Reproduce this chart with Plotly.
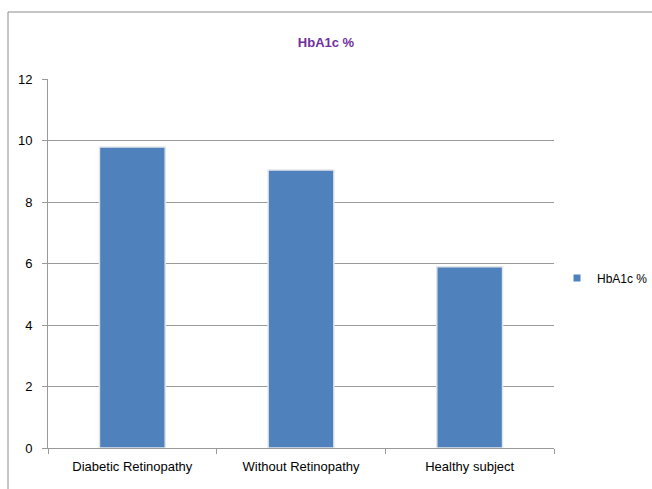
import plotly.graph_objects as go

categories = ["Diabetic Retinopathy", "Without Retinopathy", "Healthy subject"]
hba1c = [9.8, 9.05, 5.9]
series_name = "HbA1c %"
y_ticks = [0, 2, 4, 6, 8, 10, 12]

FONT = "Liberation Sans Narrow, Arial Narrow, sans-serif"
L, R, T, B = 48, 98, 79, 41
W, H = 652, 489
pw, ph = W - L - R, H - T - B

fig = go.Figure()
fig.add_trace(go.Bar(
    x=categories, y=hba1c, name=series_name,
    marker=dict(color="#4f81bd", line=dict(color="#e3e6ea", width=1.5)),
    width=0.39, showlegend=False,
))
# legend entry (small square marker, like the reference)
fig.add_trace(go.Scatter(
    x=[None], y=[None], mode="markers", name=series_name,
    marker=dict(symbol="square", size=7, color="#4f81bd"), showlegend=True,
))

fig.update_layout(
    width=W, height=H,
    margin=dict(l=L, r=R, t=T, b=B, autoexpand=False),
    paper_bgcolor="white", plot_bgcolor="white",
    font=dict(family=FONT, size=12, color="#000000"),
    title=dict(text="<b>HbA1c %</b>", x=326 / W, xref="container",
               xanchor="center", y=1 - 42 / H, yanchor="middle",
               font=dict(family=FONT, size=13, color="#7030a0")),
    showlegend=True,
    legend=dict(x=557 / W, y=1 - 278 / H, xref="container", yref="container",
                xanchor="left", yanchor="middle",
                font=dict(family=FONT, size=12, color="#000000"),
                bgcolor="rgba(0,0,0,0)", itemwidth=30),
    xaxis=dict(type="category", tickson="boundaries", ticks="outside", ticklen=5,
               tickcolor="#9a9a9a", showline=True, linecolor="#9a9a9a", linewidth=1,
               showgrid=False, ticklabelstandoff=6,
               tickfont=dict(family=FONT, size=13, color="#000000")),
    yaxis=dict(range=[0, 12.01], tickvals=y_ticks, ticks="outside", ticklen=5,
               tickcolor="#9a9a9a", showline=True, linecolor="#9a9a9a", linewidth=1,
               showgrid=True, gridcolor="#9a9a9a", gridwidth=1, zeroline=False,
               ticklabelstandoff=7,
               tickfont=dict(family=FONT, size=13, color="#000000")),
    bargap=0.6,
)

# outer chart border
fig.add_shape(type="rect", xref="paper", yref="paper",
              x0=(8 - L) / pw, x1=(W + 60 - L) / pw,
              y0=-(B + 40) / ph, y1=1 + (T - 12) / ph,
              line=dict(color="#8c8c8c", width=1), layer="below")

fig.write_html("out.html")
